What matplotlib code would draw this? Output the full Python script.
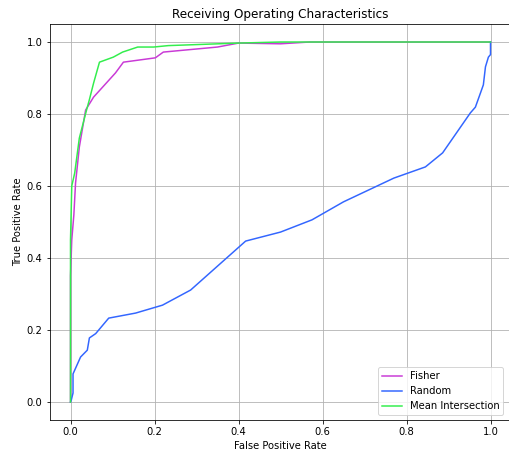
import matplotlib
matplotlib.use("Agg")
import matplotlib.pyplot as plt

fisher_fpr = [0.0, 0.0, 0.003, 0.008, 0.012, 0.021, 0.036, 0.055, 0.107, 0.126, 0.202, 0.221, 0.35, 0.40, 0.50, 0.57, 1.0]
fisher_tpr = [0.0, 0.35, 0.45, 0.52, 0.608, 0.708, 0.811, 0.847, 0.914, 0.944, 0.956, 0.972, 0.986, 0.997, 0.995, 1.0, 1.0]

random_fpr = [0.0, 0.002, 0.006, 0.006, 0.024, 0.04, 0.045, 0.06, 0.091, 0.155, 0.219, 0.286, 0.417, 0.5, 0.575,
              0.65, 0.77, 0.845, 0.886, 0.952, 0.964, 0.976, 0.983, 0.988, 0.995, 1.0, 1.0]
random_tpr = [0.0, 0.006, 0.025, 0.078, 0.125, 0.144, 0.178, 0.19, 0.233, 0.247, 0.269, 0.311, 0.447, 0.472, 0.506,
              0.556, 0.622, 0.653, 0.692, 0.803, 0.819, 0.858, 0.881, 0.931, 0.958, 0.965, 1.0]

mean_fpr = [0.0, 0.0, 0.003, 0.01, 0.021, 0.038, 0.045, 0.055, 0.069, 0.102, 0.124, 0.16, 0.198, 0.233, 0.40, 0.50, 1.0]
mean_tpr = [0.0, 0.45, 0.60, 0.636, 0.733, 0.81, 0.84, 0.886, 0.944, 0.958, 0.972, 0.986, 0.986, 0.99, 0.997, 1.0, 1.0]

fig = plt.figure(figsize=(509 / 72, 451 / 72), dpi=72)
# the right spine sits just past the edge of the image, as in the original crop
ax = fig.add_axes([49.5 / 509, 31 / 451, 462 / 509, 396 / 451])

ax.plot(fisher_fpr, fisher_tpr, color='#c93ad6', label='Fisher')
ax.plot(random_fpr, random_tpr, color='#3366ff', label='Random')
ax.plot(mean_fpr, mean_tpr, color='#33ee4d', label='Mean Intersection')

ax.set_xlim(-0.05, 1.05)
ax.set_ylim(-0.05, 1.05)
ax.grid(True)
ax.set_xlabel('False Positive Rate')
ax.set_ylabel('True Positive Rate')
ax.set_title('Receiving Operating Characteristics')
ax.legend(loc='lower right', bbox_to_anchor=(0.993, 0.0))

fig.savefig('out.png', dpi=72)
